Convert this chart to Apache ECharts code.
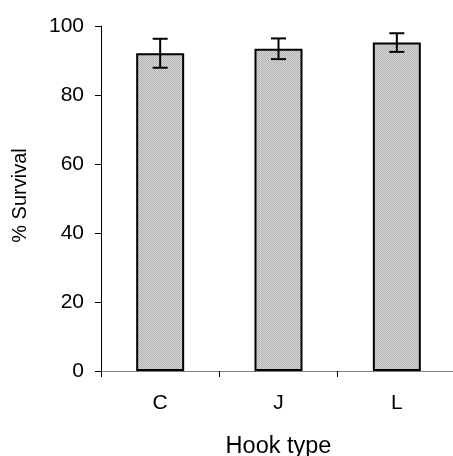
<!DOCTYPE html>
<html>
<head>
<meta charset="utf-8">
<script src="https://cdn.jsdelivr.net/npm/echarts@6/dist/echarts.min.js"></script>
<style>
html,body{margin:0;padding:0;background:#fff;}
#chart{width:453px;height:456px;}
</style>
</head>
<body>
<div id="chart"></div>
<script>
var categories = ['C', 'J', 'L'];
var survival = [92.1, 93.4, 95.2];
var errors = [4.2, 3.0, 2.7];
var yTicks = [0, 20, 40, 60, 80, 100];

var FONT = '"Liberation Sans", Arial, sans-serif';

// dithered gray fill pattern
var pc = document.createElement('canvas');
pc.width = 2; pc.height = 2;
var pctx = pc.getContext('2d');
pctx.fillStyle = '#d6d6d6'; pctx.fillRect(0, 0, 2, 2);
pctx.fillStyle = '#b2b2b2'; pctx.fillRect(0, 0, 1, 1); pctx.fillRect(1, 1, 1, 1);

var errData = categories.map(function (c, i) {
  return [i, survival[i] - errors[i], survival[i] + errors[i]];
});

var chart = echarts.init(document.getElementById('chart'), null, {renderer: 'canvas'});
chart.setOption({
  animation: false,
  backgroundColor: '#fff',
  grid: {left: 101, top: 26, width: 355, height: 345, containLabel: false, outerBoundsMode: 'none'},
  xAxis: {
    type: 'category',
    data: categories,
    name: 'Hook type',
    nameLocation: 'middle',
    nameGap: 64,
    nameTextStyle: {fontFamily: FONT, fontSize: 23.5, color: '#000'},
    axisLine: {lineStyle: {color: '#808080', width: 1}},
    axisTick: {show: true, length: 6, lineStyle: {color: '#000'}},
    axisLabel: {fontFamily: FONT, fontSize: 21, color: '#000', margin: 22}
  },
  yAxis: {
    type: 'value',
    min: yTicks[0],
    max: yTicks[yTicks.length - 1],
    interval: yTicks[1] - yTicks[0],
    name: '% Survival',
    nameLocation: 'middle',
    nameGap: 71,
    nameTextStyle: {fontFamily: FONT, fontSize: 20, color: '#000', padding: [0, 0, 0, 6]},
    axisLine: {show: true, lineStyle: {color: '#000', width: 1}},
    axisTick: {show: true, length: 6, lineStyle: {color: '#000'}},
    axisLabel: {fontFamily: FONT, fontSize: 21, color: '#000', margin: 17},
    splitLine: {show: false}
  },
  series: [
    {
      type: 'bar',
      data: survival,
      barWidth: 48,
      itemStyle: {
        color: {image: pc, repeat: 'repeat'},
        borderColor: '#000',
        borderWidth: 2
      }
    },
    {
      type: 'custom',
      data: errData,
      z: 10,
      renderItem: function (params, api) {
        var x = api.value(0);
        var lo = api.coord([x, api.value(1)]);
        var hi = api.coord([x, api.value(2)]);
        var hw = 7.5;
        var st = {stroke: '#000', lineWidth: 2};
        return {
          type: 'group',
          children: [
            {type: 'line', shape: {x1: lo[0], y1: lo[1], x2: hi[0], y2: hi[1]}, style: st},
            {type: 'line', shape: {x1: hi[0] - hw, y1: hi[1], x2: hi[0] + hw, y2: hi[1]}, style: st},
            {type: 'line', shape: {x1: lo[0] - hw, y1: lo[1], x2: lo[0] + hw, y2: lo[1]}, style: st}
          ]
        };
      }
    }
  ]
});
</script>
</body>
</html>
